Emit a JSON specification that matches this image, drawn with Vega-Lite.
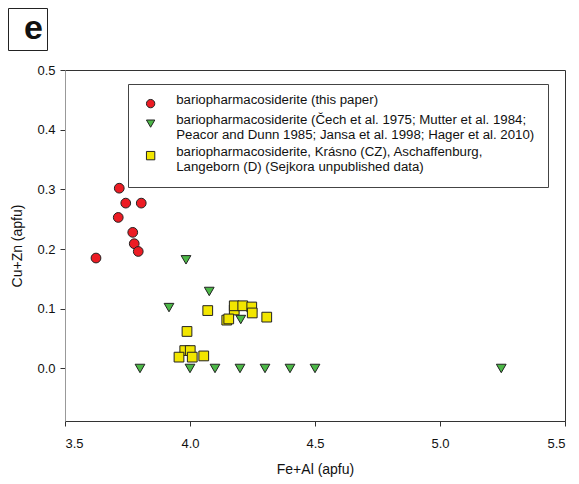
{
  "$schema": "https://vega.github.io/schema/vega-lite/v6.json",
  "width": 500,
  "height": 351,
  "autosize": "none",
  "padding": {"left": 65, "top": 70, "right": 14, "bottom": 63},
  "background": "white",
  "config": {
    "font": "Liberation Sans",
    "view": {"stroke": "#333", "strokeWidth": 1},
    "axis": {"grid": false, "labelFont": "Liberation Sans", "titleFont": "Liberation Sans", "labelFontSize": 13, "titleFontSize": 14, "titleFontWeight": "normal", "labelColor": "#111", "titleColor": "#111", "tickSize": 5, "tickColor": "#333"}
  },
  "data": {"values": [
    {"x": 3.717, "y": 0.302, "s": "a"},
    {"x": 3.743, "y": 0.277, "s": "a"},
    {"x": 3.805, "y": 0.277, "s": "a"},
    {"x": 3.713, "y": 0.253, "s": "a"},
    {"x": 3.771, "y": 0.228, "s": "a"},
    {"x": 3.777, "y": 0.209, "s": "a"},
    {"x": 3.793, "y": 0.196, "s": "a"},
    {"x": 3.624, "y": 0.185, "s": "a"},
    {"x": 3.984, "y": 0.182, "s": "b"},
    {"x": 4.077, "y": 0.129, "s": "b"},
    {"x": 3.916, "y": 0.102, "s": "b"},
    {"x": 4.203, "y": 0.082, "s": "b"},
    {"x": 3.8, "y": 0.0, "s": "b"},
    {"x": 4.0, "y": 0.0, "s": "b"},
    {"x": 4.1, "y": 0.0, "s": "b"},
    {"x": 4.2, "y": 0.0, "s": "b"},
    {"x": 4.3, "y": 0.0, "s": "b"},
    {"x": 4.4, "y": 0.0, "s": "b"},
    {"x": 4.5, "y": 0.0, "s": "b"},
    {"x": 5.245, "y": 0.0, "s": "b"},
    {"x": 4.071, "y": 0.097, "s": "c"},
    {"x": 4.177, "y": 0.098, "s": "c"},
    {"x": 4.177, "y": 0.105, "s": "c"},
    {"x": 4.211, "y": 0.105, "s": "c"},
    {"x": 4.247, "y": 0.103, "s": "c"},
    {"x": 4.249, "y": 0.093, "s": "c"},
    {"x": 4.307, "y": 0.086, "s": "c"},
    {"x": 4.147, "y": 0.081, "s": "c"},
    {"x": 4.155, "y": 0.083, "s": "c"},
    {"x": 3.988, "y": 0.062, "s": "c"},
    {"x": 3.979, "y": 0.03, "s": "c"},
    {"x": 4.001, "y": 0.03, "s": "c"},
    {"x": 3.956, "y": 0.019, "s": "c"},
    {"x": 4.009, "y": 0.019, "s": "c"},
    {"x": 4.055, "y": 0.021, "s": "c"}
  ]},
  "mark": {"type": "point", "filled": true, "stroke": "#222", "strokeWidth": 1, "size": 95},
  "encoding": {
    "x": {"field": "x", "type": "quantitative", "scale": {"domain": [3.5, 5.5], "nice": false, "zero": false},
      "axis": {"values": [3.5, 4.0, 4.5, 5.0, 5.5], "format": ".1f", "title": "Fe+Al (apfu)", "domainColor": "#333", "labelPadding": 11, "titlePadding": 12}},
    "y": {"field": "y", "type": "quantitative", "scale": {"domain": [-0.088, 0.5], "nice": false, "zero": false},
      "axis": {"values": [0, 0.1, 0.2, 0.3, 0.4, 0.5], "format": ".1f", "title": "Cu+Zn (apfu)", "domainColor": "#999", "labelPadding": 5, "titlePadding": 12}},
    "color": {"field": "s", "type": "nominal", "scale": {"domain": ["a", "b", "c"], "range": ["#ec1c24", "#4cb847", "#f2e600"]},
      "legend": {"orient": "none", "legendX": 63, "legendY": 14, "title": null, "strokeColor": "#444", "fillColor": "white", "padding": 13, "symbolOffset": 3, "labelFontSize": 13.25, "labelFont": "Liberation Sans", "labelColor": "#111", "labelBaseline": "alphabetic", "labelOffset": 19, "symbolSize": 70, "symbolOpacity": 1, "symbolStrokeColor": "#222", "symbolStrokeWidth": 1, "rowPadding": 2, "labelLimit": 500,
        "labelExpr": "datum.value == 'a' ? 'bariopharmacosiderite (this paper)' : datum.value == 'b' ? ['bariopharmacosiderite (Čech et al. 1975; Mutter et al. 1984;', '\u00a0Peacor and Dunn 1985; Jansa et al. 1998; Hager et al. 2010)\u00a0\u00a0'] : ['bariopharmacosiderite, Krásno (CZ), Aschaffenburg,', '\u00a0Langeborn (D) (Sejkora unpublished data)']"}},
    "shape": {"field": "s", "type": "nominal", "scale": {"domain": ["a", "b", "c"], "range": ["circle", "triangle-down", "square"]}, "legend": null},
    "opacity": {"datum": "e", "type": "nominal", "scale": {"range": [1]},
      "legend": {"orient": "none", "legendX": -57, "legendY": -62, "title": null, "direction": "vertical", "strokeColor": "#222", "fillColor": "white", "padding": 4, "symbolType": "circle", "symbolSize": 0, "symbolStrokeWidth": 0, "symbolOpacity": 0, "symbolOffset": 0, "columnPadding": 0, "labelOffset": -22, "labelAlign": "left", "labelLimit": 60, "labelFontSize": 34, "labelFontWeight": "bold", "labelFont": "Liberation Sans", "labelColor": "#111", "labelExpr": "'e\u00a0'"}}
  }
}
